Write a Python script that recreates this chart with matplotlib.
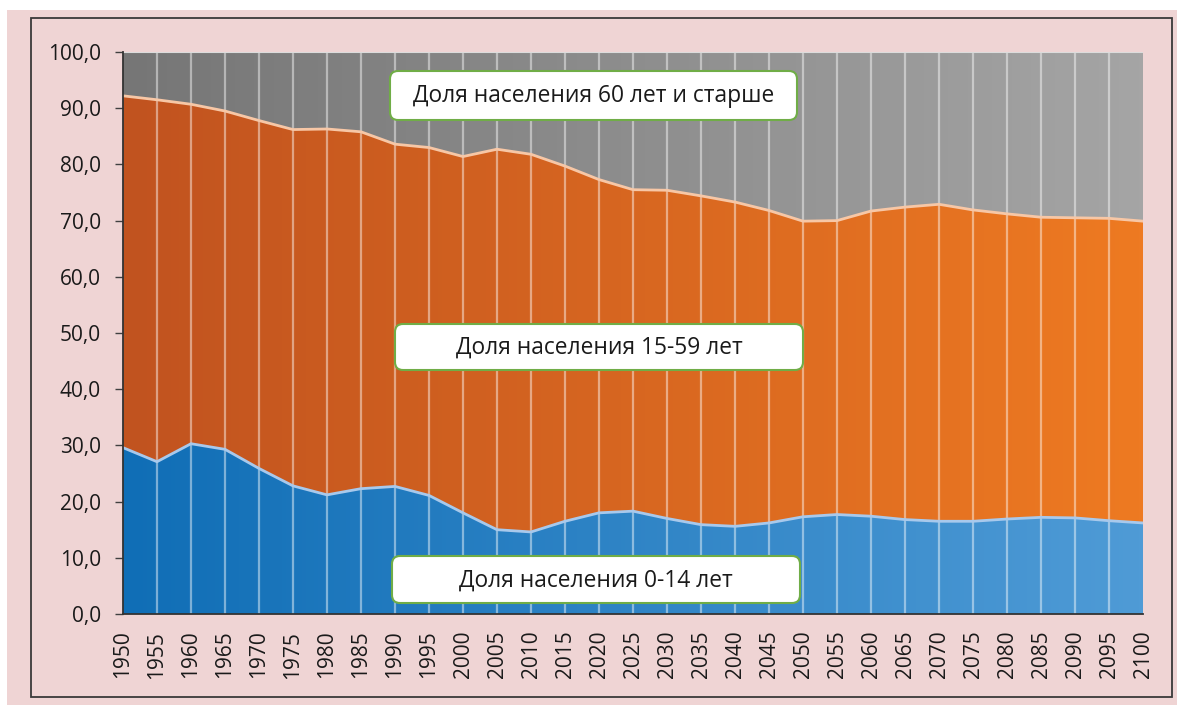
import numpy as np
import matplotlib
matplotlib.use('Agg')
import matplotlib.pyplot as plt
from matplotlib.colors import LinearSegmentedColormap
from matplotlib.patches import FancyBboxPatch, Rectangle
from matplotlib.transforms import IdentityTransform

plt.rcParams['font.family'] = ['Open Sans', 'DejaVu Sans']

# Data: share of population by age group, %
years = list(range(1950, 2101, 5))
share_0_14 = [29.6, 27.1, 30.3, 29.3, 25.9, 22.8, 21.2, 22.3, 22.7, 21.1,
              18.0, 15.0, 14.6, 16.5, 18.0, 18.3, 17.0, 15.9, 15.6, 16.2,
              17.3, 17.7, 17.4, 16.8, 16.5, 16.5, 16.9, 17.2, 17.1, 16.6, 16.2]
share_15_59 = [62.6, 64.4, 60.4, 60.2, 61.9, 63.4, 65.1, 63.5, 60.9, 61.9,
               63.4, 67.7, 67.2, 63.2, 59.3, 57.2, 58.4, 58.5, 57.7, 55.6,
               52.6, 52.3, 54.3, 55.6, 56.4, 55.4, 54.3, 53.4, 53.4, 53.8, 53.7]
share_60_plus = [7.8, 8.5, 9.3, 10.5, 12.2, 13.8, 13.7, 14.2, 16.4, 17.0,
                 18.6, 17.3, 18.2, 20.3, 22.7, 24.5, 24.6, 25.6, 26.7, 28.2,
                 30.1, 30.0, 28.3, 27.6, 27.1, 28.1, 28.8, 29.4, 29.5, 29.6, 30.1]
labels = ['Доля населения 0-14 лет', 'Доля населения 15-59 лет',
          'Доля населения 60 лет и старше']

W, H = 1196, 705
fig = plt.figure(figsize=(W / 100, H / 100), dpi=100, facecolor='white')

# pink background and frame
fig.patches.append(Rectangle((7 / W, 0), 1170 / W, 695 / H, transform=fig.transFigure,
                             facecolor='#efd4d4', edgecolor='none', zorder=-10))
fig.patches.append(Rectangle((31 / W, 1 - 697 / H), 1141 / W, 679 / H, transform=fig.transFigure,
                             facecolor='none', edgecolor='#3a3a3a', lw=1.3, zorder=-9))

ax = fig.add_axes([123 / W, 1 - 614 / H, 1020 / W, 562 / H])
ax.set_facecolor('none')
ax.set_xlim(1950, 2100)
ax.set_ylim(0, 100)

x = np.array(years)
low = np.array(share_0_14)
mid = low + np.array(share_15_59)
top = mid + np.array(share_60_plus)

# stacked areas with a left-to-right gradient
layers = [
    (np.zeros_like(low), low, '#106eb6', '#4f9bd6'),
    (low, mid, '#c1531f', '#ee7a22'),
    (mid, top, '#767676', '#a5a5a5'),
]
grad = np.linspace(0, 1, 256).reshape(1, -1)
for y0, y1, c0, c1 in layers:
    poly = ax.fill_between(x, y0, y1, color='none', lw=0)
    cmap = LinearSegmentedColormap.from_list('g', [c0, c1])
    im = ax.imshow(grad, cmap=cmap, extent=[1950, 2100, 0, 100],
                   aspect='auto', origin='lower', zorder=1)
    im.set_clip_path(poly.get_paths()[0], transform=ax.transData)

# vertical grid lines
for yr in years[1:-1]:
    ax.axvline(yr, color='white', alpha=0.45, lw=1.6, zorder=2)
ax.axhline(100, color='#dcdcdc', lw=1.5, zorder=2)

# boundary lines
ax.plot(x, low, color='#a8c9ec', lw=2, zorder=3)
ax.plot(x, mid, color='#f7c7a6', lw=2, zorder=3)

ax.set_yticks(range(0, 101, 10))
ax.set_yticklabels([f'{v},0' for v in range(0, 101, 10)], fontsize=15, color='#1a1a1a')
ax.set_xticks(years)
ax.set_xticklabels([str(y) for y in years], rotation=90, fontsize=15, color='#1a1a1a')
ax.tick_params(axis='y', length=6, width=1, color='#404040', pad=10)
ax.tick_params(axis='x', length=0, pad=12)
for s in ['top', 'right']:
    ax.spines[s].set_visible(False)
for s in ['left', 'bottom']:
    ax.spines[s].set_color('#333333')
    ax.spines[s].set_linewidth(1.3)
ax.spines['left'].set_zorder(5)
ax.spines['bottom'].set_zorder(5)

# label boxes (pixel coords from top-left)
boxes = [(392, 556, 408, 47, labels[0]),
         (395, 324, 408, 46, labels[1]),
         (390, 71, 407, 49, labels[2])]
for bx, by, bw, bh, txt in boxes:
    p = FancyBboxPatch((bx, H - by - bh), bw, bh,
                       boxstyle='round,pad=0,rounding_size=8',
                       transform=IdentityTransform(), facecolor='white',
                       edgecolor='#70ad47', lw=1.5, zorder=10)
    fig.add_artist(p)
    fig.text((bx + bw / 2) / W, 1 - (by + bh / 2 + 1) / H, txt, ha='center', va='center',
             fontsize=16.4, color='#1a1a1a', zorder=11)

fig.savefig('out.png', dpi=100)
